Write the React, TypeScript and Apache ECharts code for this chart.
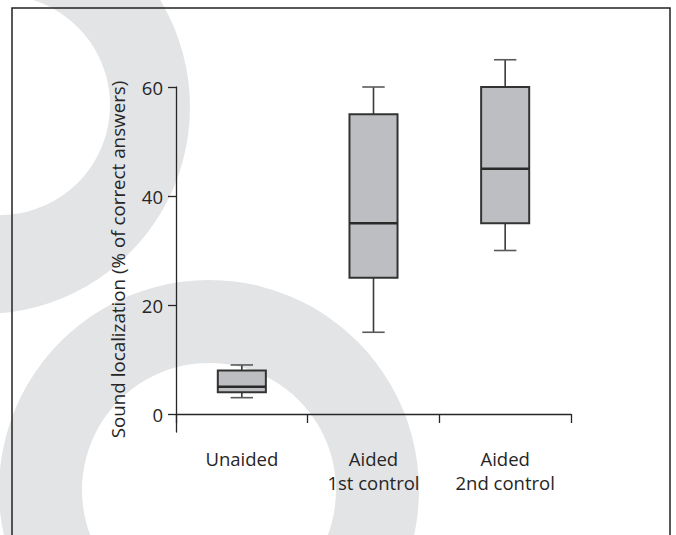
import React, { useEffect, useRef } from 'react';
import * as echarts from 'echarts';

const categories = ['Unaided', 'Aided\n1st control', 'Aided\n2nd control'];
const whiskerLow = [3, 15, 30];
const quartile1 = [4, 25, 35];
const medians = [5, 35, 45];
const quartile3 = [8, 55, 60];
const whiskerHigh = [9, 60, 65];
const yTicks = [0, 20, 40, 60];
const yAxisTitle = 'Sound localization (% of correct answers)';

const FONT = 'Open Sans';
const INK = '#262626';
const WATERMARK = '#e3e4e6';

export default function App() {
  const ref = useRef<HTMLDivElement>(null);

  useEffect(() => {
    if (!ref.current) return;
    const chart = echarts.init(ref.current, null, { renderer: 'svg' });
    const data = categories.map((_, i) => [
      i,
      whiskerLow[i],
      quartile1[i],
      medians[i],
      quartile3[i],
      whiskerHigh[i],
    ]);

    const renderItem = (params: any, api: any) => {
      const idx = api.value(0);
      const band = api.size([1, 0])[0];
      const boxW = band * 0.365;
      const capW = band * 0.17;
      const pLow = api.coord([idx, api.value(1)]);
      const pQ1 = api.coord([idx, api.value(2)]);
      const pMed = api.coord([idx, api.value(3)]);
      const pQ3 = api.coord([idx, api.value(4)]);
      const pHigh = api.coord([idx, api.value(5)]);
      const cx = pMed[0];
      const whiskerStyle = { stroke: '#3a3a3a', lineWidth: 1.6 };
      const capStyle = { stroke: '#5a5a5a', lineWidth: 1.6 };
      return {
        type: 'group',
        children: [
          { type: 'line', shape: { x1: cx, y1: pHigh[1], x2: cx, y2: pQ3[1] }, style: whiskerStyle },
          { type: 'line', shape: { x1: cx, y1: pQ1[1], x2: cx, y2: pLow[1] }, style: whiskerStyle },
          { type: 'line', shape: { x1: cx - capW / 2, y1: pHigh[1], x2: cx + capW / 2, y2: pHigh[1] }, style: capStyle },
          { type: 'line', shape: { x1: cx - capW / 2, y1: pLow[1], x2: cx + capW / 2, y2: pLow[1] }, style: capStyle },
          {
            type: 'rect',
            shape: { x: cx - boxW / 2, y: pQ3[1], width: boxW, height: pQ1[1] - pQ3[1] },
            style: { fill: '#bdbec1', stroke: '#333', lineWidth: 2 },
          },
          {
            type: 'line',
            shape: { x1: cx - boxW / 2, y1: pMed[1], x2: cx + boxW / 2, y2: pMed[1] },
            style: { stroke: '#2a2a2a', lineWidth: 2.4 },
          },
        ],
      };
    };

    chart.setOption({
      animation: false,
      backgroundColor: '#ffffff',
      textStyle: { fontFamily: FONT },
      grid: { left: 176, right: 105, top: 87, bottom: 103 },
      xAxis: {
        type: 'category',
        data: categories,
        boundaryGap: true,
        axisLine: { show: true, lineStyle: { color: INK, width: 1.3 } },
        axisTick: { show: true, length: 9, lineStyle: { color: INK, width: 1.3 } },
        axisLabel: {
          interval: 0,
          fontSize: 18.5,
          lineHeight: 24,
          color: INK,
          margin: 14,
          fontFamily: FONT,
        },
        splitLine: { show: false },
      },
      yAxis: {
        type: 'value',
        min: -3.3,
        max: 60,
        name: yAxisTitle,
        nameLocation: 'middle',
        nameGap: 49,
        nameTextStyle: { fontSize: 18.8, color: INK, fontFamily: FONT },
        axisLine: { show: true, lineStyle: { color: INK, width: 1.3 } },
        axisTick: { show: true, length: 8, customValues: yTicks, lineStyle: { color: INK, width: 1.3 } },
        axisLabel: { customValues: yTicks, fontSize: 18.5, color: INK, margin: 13, fontFamily: FONT },
        splitLine: { show: false },
      },
      graphic: [
        { type: 'circle', z: -30, silent: true, shape: { cx: -17, cy: 107, r: 207 }, style: { fill: WATERMARK } },
        { type: 'circle', z: -29, silent: true, shape: { cx: 0, cy: 105, r: 110 }, style: { fill: '#ffffff' } },
        { type: 'ring', z: -28, silent: true, shape: { cx: 209, cy: 490, r: 210, r0: 127 }, style: { fill: WATERMARK } },
        {
          type: 'rect',
          z: 100,
          silent: true,
          shape: { x: 12, y: 8, width: 658, height: 620 },
          style: { fill: 'none', stroke: '#222', lineWidth: 1.5 },
        },
      ],
      series: [
        {
          type: 'custom',
          data,
          encode: { x: 0, y: [1, 2, 3, 4, 5] },
          renderItem,
          z: 5,
        },
      ],
    });

    return () => chart.dispose();
  }, []);

  return (
    <div
      ref={ref}
      style={{ position: 'absolute', left: 0, top: 0, width: 676, height: 535 }}
    />
  );
}
